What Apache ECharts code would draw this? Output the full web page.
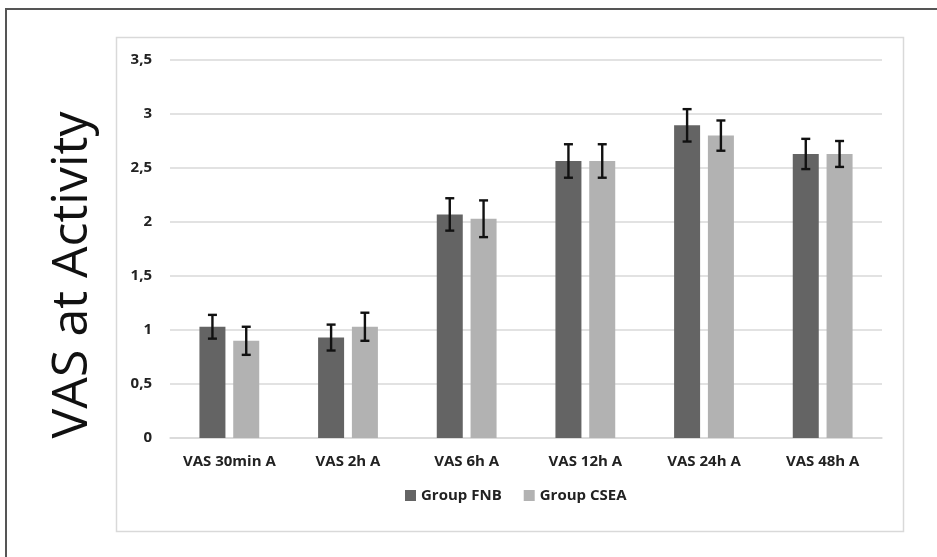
<!DOCTYPE html>
<html>
<head>
<meta charset="utf-8">
<script src="https://cdn.jsdelivr.net/npm/echarts@6/dist/echarts.min.js"></script>
<style>html,body{margin:0;padding:0;background:#fff}#c{width:937px;height:557px}</style>
</head>
<body>
<div id="c"></div>
<script>
const categories = ['VAS 30min A', 'VAS 2h A', 'VAS 6h A', 'VAS 12h A', 'VAS 24h A', 'VAS 48h A'];
const fnbMean = [1.03, 0.93, 2.07, 2.565, 2.895, 2.63];
const fnbErr  = [0.11, 0.12, 0.15, 0.155, 0.15, 0.14];
const cseaMean = [0.90, 1.03, 2.03, 2.565, 2.80, 2.63];
const cseaErr  = [0.13, 0.13, 0.17, 0.155, 0.14, 0.12];
const yTicks = ['0', '0,5', '1', '1,5', '2', '2,5', '3', '3,5'];

const BAR_W = 26, GAP = 7.8;
const font = 'Open Sans';

function errSeries(name, means, errs, sign) {
  return {
    type: 'custom', name: name + ' err', z: 10, silent: true,
    data: means.map((m, i) => [i, m - errs[i], m + errs[i]]),
    renderItem: function (params, api) {
      const i = api.value(0);
      const lo = api.coord([i, api.value(1)]);
      const hi = api.coord([i, api.value(2)]);
      const x = lo[0] + sign * (BAR_W + GAP) / 2;
      const cap = 4.5;
      const st = { stroke: '#111', lineWidth: 2.4 };
      return { type: 'group', children: [
        { type: 'line', shape: { x1: x, y1: lo[1], x2: x, y2: hi[1] }, style: st },
        { type: 'line', shape: { x1: x - cap, y1: lo[1], x2: x + cap, y2: lo[1] }, style: st },
        { type: 'line', shape: { x1: x - cap, y1: hi[1], x2: x + cap, y2: hi[1] }, style: st }
      ]};
    }
  };
}

const chart = echarts.init(document.getElementById('c'));
chart.setOption({
  animation: false,
  graphic: [
    { type: 'rect', shape: { x: 6, y: 9, width: 950, height: 570 }, style: { fill: 'none', stroke: '#555', lineWidth: 2 }, z: -10 },
    { type: 'rect', shape: { x: 116.5, y: 37.5, width: 787, height: 494 }, style: { fill: 'none', stroke: '#d9d9d9', lineWidth: 1.5 }, z: -10 },
    { type: 'text', x: 73, y: 275, rotation: Math.PI / 2,
      style: { text: 'VAS at Activity', font: '50px "' + font + '"', fill: '#111', textAlign: 'center', textVerticalAlign: 'middle' } }
  ],
  grid: { left: 170, right: 55, top: 60, bottom: 119 },
  legend: {
    data: ['Group FNB', 'Group CSEA'], bottom: 49, left: 400, itemWidth: 11, itemHeight: 11, itemGap: 22,
    icon: 'rect', textStyle: { fontFamily: font, fontWeight: 'bold', fontSize: 15, color: '#222' }
  },
  xAxis: {
    type: 'category', data: categories,
    axisLine: { lineStyle: { color: '#d9d9d9', width: 1.5 } },
    axisTick: { show: false },
    axisLabel: { interval: 0, fontFamily: font, fontWeight: 'bold', fontSize: 15, color: '#222', margin: 16 }
  },
  yAxis: {
    type: 'value', min: 0, max: 3.5, interval: 0.5,
    axisLine: { show: false }, axisTick: { show: false },
    splitLine: { lineStyle: { color: '#d9d9d9', width: 1.5 } },
    axisLabel: { fontFamily: font, fontWeight: 'bold', fontSize: 15, color: '#222', margin: 18,
      formatter: (v) => yTicks[Math.round(v / 0.5)] }
  },
  series: [
    { name: 'Group FNB', type: 'bar', data: fnbMean, barWidth: BAR_W, barGap: (GAP / BAR_W * 100) + '%', itemStyle: { color: '#646464' } },
    { name: 'Group CSEA', type: 'bar', data: cseaMean, barWidth: BAR_W, itemStyle: { color: '#b2b2b2' } },
    errSeries('Group FNB', fnbMean, fnbErr, -1),
    errSeries('Group CSEA', cseaMean, cseaErr, 1)
  ]
});
</script>
</body>
</html>
